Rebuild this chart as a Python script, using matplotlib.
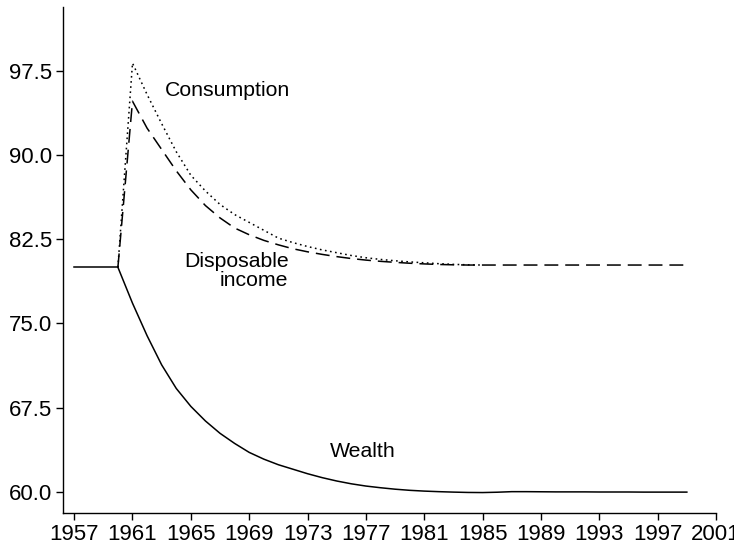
import matplotlib
matplotlib.use("Agg")
import matplotlib.pyplot as plt
import numpy as np

plt.rcParams['font.family'] = ['Liberation Sans', 'DejaVu Sans']
plt.rcParams['lines.scale_dashes'] = False

# Baseline (pre-shock) segment
base_years = [1957, 1958, 1959, 1960]
base_values = [80.0, 80.0, 80.0, 80.0]

# Wealth
wealth_years = list(range(1960, 2000))
wealth = [80.0, 76.8, 73.9, 71.3, 69.2, 67.6, 66.3, 65.2, 64.3, 63.5,
          62.9, 62.4, 62.0, 61.6, 61.25, 60.95, 60.7, 60.5, 60.35, 60.22,
          60.12, 60.05, 60.0, 59.96, 59.93, 59.92, 59.95, 60.0, 60.0, 59.99,
          59.98, 59.98, 59.98, 59.97, 59.97, 59.97, 59.96, 59.96, 59.96, 59.96]

# Consumption
cons_years = list(range(1960, 1986))
consumption = [80.0, 98.2, 95.4, 92.8, 90.3, 88.2, 86.8, 85.6, 84.7, 84.0,
               83.3, 82.6, 82.2, 81.85, 81.55, 81.3, 81.05, 80.85, 80.7, 80.58,
               80.48, 80.4, 80.32, 80.26, 80.22, 80.2]

# Disposable income
inc_years = list(range(1960, 2000))
income = [80.0, 94.8, 92.4, 90.5, 88.6, 86.9, 85.5, 84.4, 83.5, 82.9,
          82.4, 82.0, 81.65, 81.38, 81.15, 80.95, 80.78, 80.64, 80.53, 80.44,
          80.36, 80.3, 80.25, 80.22, 80.2, 80.2, 80.2, 80.2, 80.2, 80.2,
          80.2, 80.2, 80.2, 80.2, 80.2, 80.2, 80.2, 80.2, 80.2, 80.2]

xticks = list(range(1957, 2002, 4))
yticks = [60.0, 67.5, 75.0, 82.5, 90.0, 97.5]

fig = plt.figure(figsize=(7.34, 5.47), dpi=100)
ax = fig.add_axes([0.0865, 0.0622, 0.889, 0.925])

lw = 1.1
ax.plot(cons_years, consumption, color='black', lw=lw, linestyle=(0, (1.2, 2.5)))
ax.plot(inc_years, income, color='black', lw=lw, linestyle=(0, (10, 5)))
ax.plot(base_years, base_values, color='black', lw=lw)
ax.plot(wealth_years, wealth, color='black', lw=lw)

ax.set_xlim(1956.27, 2001)
ax.set_ylim(58.1, 103.2)
ax.set_xticks(xticks)
ax.set_xticklabels([str(x) for x in xticks])
ax.set_yticks(yticks)
ax.set_yticklabels([f"{y:.1f}" for y in yticks])

for s in ['top', 'right']:
    ax.spines[s].set_visible(False)
for s in ['left', 'bottom']:
    ax.spines[s].set_linewidth(1.0)
ax.tick_params(axis='both', direction='out', length=5, width=1.0, labelsize=16, pad=3)

fs = 15.3
ax.text(1963.25, 95.8, "Consumption", fontsize=fs, ha='left', va='center')
ax.text(1971.7, 79.65, "Disposable\nincome", fontsize=fs, ha='right', va='center',
        multialignment='right', linespacing=1.0)
ax.text(1974.5, 63.6, "Wealth", fontsize=fs, ha='left', va='center')

fig.savefig("out.png", dpi=100)
